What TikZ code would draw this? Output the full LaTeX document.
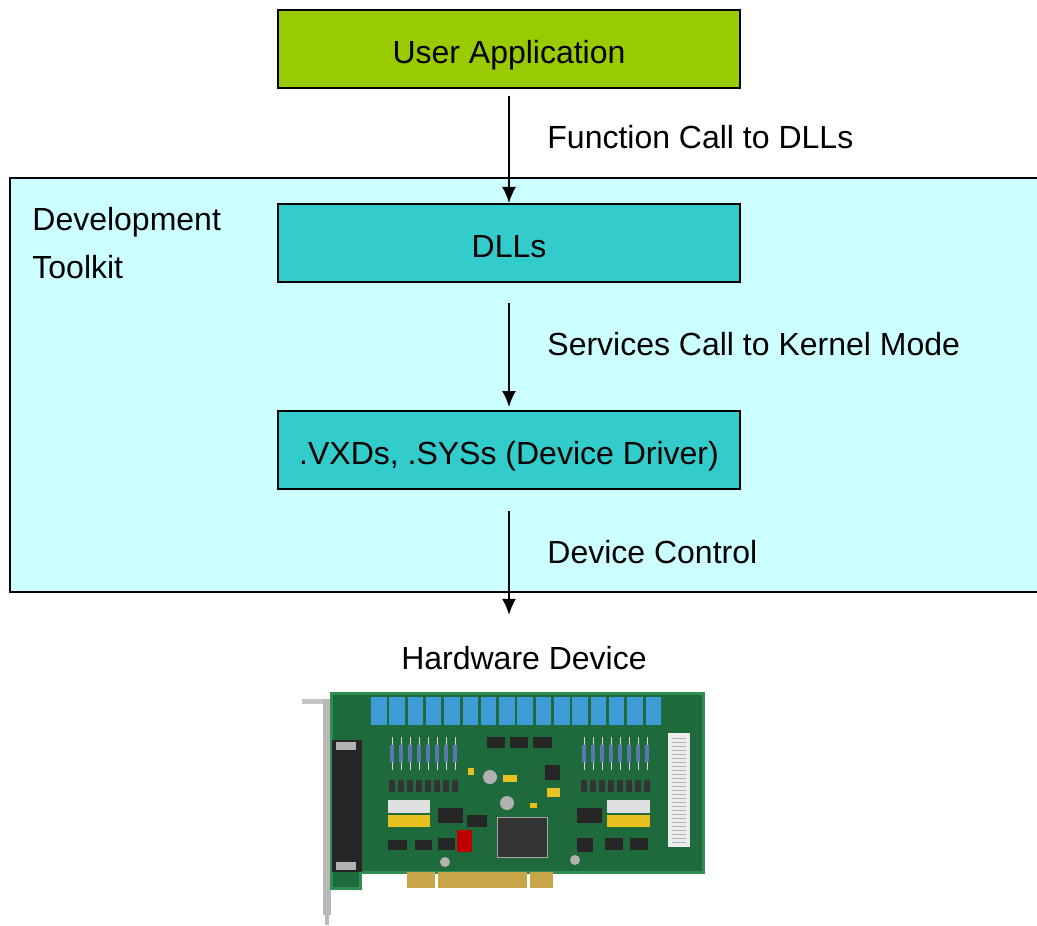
\documentclass[tikz,border=0pt]{standalone}
\usepackage{fontspec}
\setmainfont{Liberation Sans}
\usetikzlibrary{arrows.meta}
\usetikzlibrary{positioning}
\definecolor{appgreen}{HTML}{99CC00}
\definecolor{kitcyan}{HTML}{CCFFFF}
\definecolor{dllteal}{HTML}{33CCCC}
\definecolor{pcbgreen}{HTML}{1E6A3C}
\definecolor{pcbedge}{HTML}{2E8F50}
\definecolor{relayblue}{HTML}{3D9BD6}
\definecolor{resblue}{HTML}{5A78B0}
\definecolor{gold}{HTML}{C9A54A}
\definecolor{jumper}{HTML}{E8C020}
\tikzset{layer/.style={draw, line width=1pt, minimum width=231pt, minimum height=39pt, inner sep=0pt, text height=14.5pt, text depth=0pt}}
\tikzset{flow/.style={line width=1pt, -{Latex[length=8pt,width=7pt]}}}
\tikzset{note/.style={anchor=base west, inner sep=0pt}}

\begin{document}
\begin{tikzpicture}[x=0.5pt,y=-0.5pt,font=\fontsize{16}{24}\selectfont]
    \useasboundingbox (0,0) rectangle (1037,925);
    \begin{scope}
      \clip (0,0) rectangle (1037,925);
      \draw[line width=1pt, fill=kitcyan] (10,178) rectangle (1050,592);
    \end{scope}
    \node[align=left, note] (kit) at (32,278) {Development\\Toolkit};

    \node[layer, fill=appgreen] (app) at (509,49) {User Application};
    \node[layer, fill=dllteal] (dll) at (509,243) {DLLs};
    \node[layer, fill=dllteal] (drv) at (509,450) {.VXDs, .SYSs (Device Driver)};
    \node[anchor=base, inner sep=0pt] (hw) at (524,669.5) {Hardware Device};

    \draw[flow, shorten <=3.5pt] (app) -- (dll);
    \draw[flow, shorten <=10pt, shorten >=1.5pt] (dll) -- (drv);
    \draw[flow, shorten <=10.5pt, shorten >=15.5pt] (drv.south) -- (drv.south |- hw.north);

    \node[note] (call) at (547,148.5) {Function Call to DLLs};
    \node[note] (kern) at (547,355.5) {Services Call to Kernel Mode};
    \node[note] (ctrl) at (547,563) {Device Control};

    % the board
    \begin{scope}[line width=0.4pt]
      \fill[gray!45] (302,699) rectangle (326,704);
      \fill[gray!55] (323,699) rectangle (331,915);
      \fill[gray!55] (325,915) rectangle (329,925);
      \fill[pcbgreen, draw=pcbedge, line width=1.5pt] (331,693) -- (703,693) -- (703,872) -- (360,872) -- (360,888) -- (331,888) -- cycle;
      \foreach \a/\b in {407/435, 438/527, 530/553}
        \fill[gold] (\a,872) rectangle (\b,888);
      \fill[black!85] (332,740) rectangle (362,872);
      \foreach \y in {742,862}
        \fill[gray!60] (336,\y) rectangle (356,\y+8);
      \foreach \i in {0,...,15}
        \fill[relayblue] (371+\i*18.3,697) rectangle ++(15.5,28);
      \fill[gray!15] (668,733) rectangle (690,847);
      \foreach \y in {738,742,...,844}
        \draw[gray!60] (672,\y) -- (686,\y);
      \foreach \x in {392,401,...,455} {
        \draw[gray!30] (\x,737) -- (\x,770);
        \fill[resblue] (\x-2,745) rectangle (\x+2,762);
        \fill[black!80] (\x-3,780) rectangle (\x+3,792);
      }
      \foreach \x in {584,593,...,647} {
        \draw[gray!30] (\x,737) -- (\x,770);
        \fill[resblue] (\x-2,745) rectangle (\x+2,762);
        \fill[black!80] (\x-3,780) rectangle (\x+3,792);
      }
      \foreach \a/\b/\c/\d in {487/737/505/748, 510/737/528/748, 533/737/552/748,
          438/808/463/823, 467/815/487/827, 577/808/602/823, 545/765/560/780,
          388/840/407/850, 415/840/432/850, 438/838/455/850, 577/838/593/852,
          605/838/623/850, 630/838/648/850}
        \fill[black!85] (\a,\b) rectangle (\c,\d);
      \fill[black!80, draw=gray!70] (497,817) rectangle (547,857);
      \fill[gray!25] (388,800) rectangle (430,813);
      \fill[gray!25] (607,800) rectangle (650,813);
      \fill[jumper] (388,815) rectangle (430,827);
      \fill[jumper] (607,815) rectangle (650,827);
      \fill[red!75!black] (457,830) rectangle (472,852);
      \foreach \a/\b/\c/\d in {468/768/474/775, 503/775/517/782, 547/788/560/797, 530/803/537/808}
        \fill[jumper] (\a,\b) rectangle (\c,\d);
      \foreach \x/\y/\r in {490/777/7, 507/803/7, 445/862/5, 575/860/5}
        \fill[gray!60] (\x,\y) circle[radius=\r];
    \end{scope}
\end{tikzpicture}
\end{document}
